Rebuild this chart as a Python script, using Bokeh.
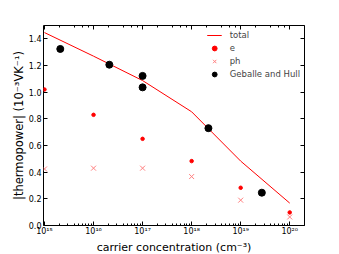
from bokeh.plotting import figure
from bokeh.models import (Range1d, LinearAxis, LogAxis, FixedTicker, Legend, LegendItem,
                          CustomJSTickFormatter, PrintfTickFormatter, Title)
from bokeh.embed import file_html
from bokeh.resources import INLINE

# data
conc = [1e15, 1e16, 1e17, 1e18, 1e19, 1e20]
total = [1.447, 1.27, 1.087, 0.853, 0.483, 0.168]
s_e = [1.02, 0.83, 0.65, 0.483, 0.283, 0.098]
s_ph = [0.424, 0.43, 0.43, 0.367, 0.19, 0.064]
gh_conc = [2.1e15, 2.1e16, 1.0e17, 1.0e17, 2.2e18, 2.7e19]
gh_val = [1.324, 1.206, 1.122, 1.036, 0.73, 0.246]
y_ticks = [0.0, 0.2, 0.4, 0.6, 0.8, 1.0, 1.2, 1.4]
x_title = "carrier concentration (cm⁻³)"
y_title = "|thermopower| (10⁻³VK⁻¹)"

p = figure(width=338, height=253, output_backend="svg", toolbar_location=None,
           x_axis_type="log", x_range=Range1d(9.55e14, 2.0e20), y_range=Range1d(0, 1.5),
           min_border_left=43, min_border_right=34, min_border_top=25, min_border_bottom=25)
p.background_fill_color = "white"
p.border_fill_color = "white"
p.outline_line_color = "black"
p.outline_line_width = 1
p.grid.visible = False

r_total = p.line(conc, total, line_color="#ff0000", line_width=1)
r_e = p.scatter(conc, s_e, marker="circle", size=3.5, fill_color="#ff0000", line_color="#ff0000")
r_ph = p.scatter(conc, s_ph, marker="x", size=7, line_color="#ff8080", line_width=1)
r_gh = p.scatter(gh_conc, gh_val, marker="circle", size=7, fill_color="black", line_color="black")

font = "DejaVu Sans"
sup_fmt = CustomJSTickFormatter(code="""
const s = {'0':'\u2070','1':'\u00b9','2':'\u00b2','3':'\u00b3','4':'\u2074','5':'\u2075','6':'\u2076','7':'\u2077','8':'\u2078','9':'\u2079','-':'\u207b'};
const e = Math.round(Math.log10(tick));
return '10' + String(e).split('').map(c => s[c]).join('');
""")

for ax in [p.xaxis[0], p.yaxis[0]]:
    ax.major_tick_in = 4
    ax.major_tick_out = 0
    ax.minor_tick_in = 2
    ax.minor_tick_out = 0
    ax.major_label_text_font = font
    ax.major_label_text_font_size = "8px"
    ax.major_label_text_color = "black"
    ax.axis_label_text_font = font
    ax.axis_label_text_font_style = "normal"
    ax.axis_label_text_color = "black"
    ax.axis_line_color = None
    ax.major_label_standoff = 2

p.xaxis[0].formatter = sup_fmt
p.xaxis[0].major_label_standoff = 1
p.yaxis[0].ticker = FixedTicker(ticks=y_ticks)
p.yaxis[0].formatter = PrintfTickFormatter(format="%.1f")
p.yaxis[0].minor_tick_line_color = None
p.yaxis[0].axis_label = y_title
p.yaxis[0].axis_label_text_font_size = "11.5px"
p.yaxis[0].axis_label_standoff = 0

# x-axis title as a compact title below the tick labels
p.add_layout(Title(text=x_title, align="center", text_font=font, text_font_size="11px",
                   text_font_style="normal", text_color="black", standoff=0, offset=13), "below")

ra = LinearAxis(ticker=FixedTicker(ticks=y_ticks), formatter=CustomJSTickFormatter(code="return '';"),
                major_tick_in=4, major_tick_out=0, minor_tick_line_color=None, axis_line_color=None,
                major_label_standoff=0)
p.add_layout(ra, "right")
ta = LogAxis(formatter=CustomJSTickFormatter(code="return '';"), major_tick_in=4, major_tick_out=0,
             minor_tick_in=2, minor_tick_out=0, axis_line_color=None, major_label_standoff=0)
p.add_layout(ta, "above")

legend = Legend(items=[LegendItem(label="total", renderers=[r_total]),
                       LegendItem(label="e", renderers=[r_e]),
                       LegendItem(label="ph", renderers=[r_ph]),
                       LegendItem(label="Geballe and Hull", renderers=[r_gh])],
                location="top_right", border_line_color=None, background_fill_alpha=0,
                label_text_font=font, label_text_font_size="8.5px", spacing=1,
                glyph_height=12, glyph_width=15, label_height=12, label_standoff=8,
                padding=2, margin=4)
p.add_layout(legend)

open("out.html", "w").write(file_html(p, INLINE))
